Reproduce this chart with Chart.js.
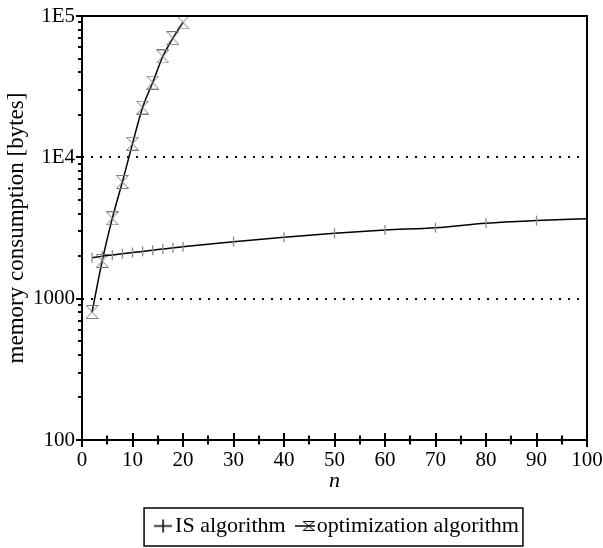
<!DOCTYPE html>
<html>
<head>
<meta charset="utf-8">
<script src="https://cdn.jsdelivr.net/npm/chart.js@4/dist/chart.umd.min.js"></script>
<style>
  html, body { margin: 0; padding: 0; background: #fff; }
  #wrap { width: 603px; height: 548px; }
</style>
</head>
<body>
<div id="wrap"><canvas id="memory-chart"></canvas></div>
<script>
// values
const isN = [2, 4, 6, 8, 10, 12, 14, 16, 18, 20, 30, 40, 50, 60, 70, 80, 90, 100];
const isMemory = [1950, 2000, 2040, 2080, 2120, 2160, 2200, 2250, 2290, 2330, 2530, 2720, 2900, 3060, 3180, 3420, 3570, 3680];
const optN = [2, 4, 6, 8, 10, 12, 14, 16, 18, 20];
const optMemory = [805, 1850, 3700, 6700, 12500, 22500, 33800, 51700, 69700, 90000];
const xTickValues = [0, 10, 20, 30, 40, 50, 60, 70, 80, 90, 100];
const yTickValues = [100, 1000, 10000, 100000];
const yTickLabels = ['100', '1000', '1E4', '1E5'];
const seriesNames = ['IS algorithm', 'optimization algorithm'];

const serif = "'Liberation Serif', Tinos, 'Times New Roman', 'DejaVu Serif', serif";

// hourglass marker: two triangles tip to tip, closed top and bottom
function hourglass(w, h, color, lineLen) {
  const c = document.createElement('canvas');
  const cw = lineLen || w + 1;
  c.width = cw; c.height = h + 1;
  const g = c.getContext('2d');
  g.strokeStyle = color; g.lineWidth = 1;
  const x0 = cw - w - 0.5, x1 = cw - 0.5, y0 = 0.5, y1 = h + 0.5;
  g.beginPath();
  g.moveTo(x0, y0); g.lineTo(x1, y0);
  g.moveTo(x0, y1); g.lineTo(x1, y1);
  g.moveTo(x0, y0); g.lineTo(x1, y1);
  g.moveTo(x1, y0); g.lineTo(x0, y1);
  g.stroke();
  if (lineLen) {
    g.strokeStyle = '#000'; g.lineWidth = 1.5;
    g.beginPath(); g.moveTo(0, (h + 1) / 2); g.lineTo(cw, (h + 1) / 2); g.stroke();
  }
  return c;
}
function plusLegend() {
  const c = document.createElement('canvas');
  c.width = 18; c.height = 15;
  const g = c.getContext('2d');
  g.strokeStyle = '#000'; g.lineWidth = 1.5;
  g.beginPath();
  g.moveTo(0, 7.5); g.lineTo(18, 7.5);
  g.moveTo(9, 1); g.lineTo(9, 14);
  g.stroke();
  return c;
}
const optPoint = hourglass(12, 13, '#7a7a7a');
const legendStyles = [plusLegend(), hourglass(11, 9, '#000', 20)];

// frame, crossing x ticks, log minor ticks and legend box
const frameAndTicks = {
  id: 'frameAndTicks',
  afterLayout(chart) {
    // legend sits a little right of the plot centre
    chart.legend.left += 6;
    chart.legend.right += 6;
  },
  afterDraw(chart) {
    const {ctx, chartArea: a, scales: {x, y}} = chart;
    ctx.save();
    ctx.strokeStyle = '#000';
    ctx.lineWidth = 2;
    ctx.strokeRect(a.left, a.top, a.right - a.left, a.bottom - a.top);
    ctx.beginPath();
    for (let v = 0; v <= 100; v += 5) {
      const px = Math.round(x.getPixelForValue(v));
      const h = v % 10 === 0 ? 7 : 4.5;
      ctx.moveTo(px, a.bottom - h); ctx.lineTo(px, a.bottom + h);
    }
    for (let d = 100; d <= 100000; d *= 10) {
      for (let m = 1; m <= 9; m++) {
        if (d * m > 100000) break;
        const py = Math.round(y.getPixelForValue(d * m));
        const len = m === 1 ? 6 : 4;
        ctx.moveTo(a.left - len, py); ctx.lineTo(a.left, py);
      }
    }
    ctx.stroke();

    const hb = chart.legend.legendHitBoxes;
    if (hb && hb.length) {
      const first = hb[0], last = hb[hb.length - 1];
      ctx.lineWidth = 1.5;
      ctx.strokeRect(first.left - 18, first.top - 7, last.left + last.width + 4 - (first.left - 18), first.height + 16);
    }
    ctx.restore();
  }
};

const memoryChart = new Chart(document.getElementById('memory-chart'), {
  type: 'line',
  data: {
    datasets: [{
      label: seriesNames[0],
      data: isN.map((n, i) => ({x: n, y: isMemory[i]})),
      borderColor: '#000',
      borderWidth: 1.5,
      pointStyle: 'line',
      pointRotation: 90,
      pointRadius: isN.map(n => n === 100 ? 0 : 5),
      pointBorderColor: '#8a8a8a',
      pointBorderWidth: 1.3,
      cubicInterpolationMode: 'monotone'
    }, {
      label: seriesNames[1],
      data: optN.map((n, i) => ({x: n, y: optMemory[i]})),
      borderColor: '#000',
      borderWidth: 1.5,
      pointStyle: optPoint,
      pointRadius: 6,
      cubicInterpolationMode: 'monotone'
    }]
  },
  options: {
    responsive: true,
    maintainAspectRatio: false,
    animation: false,
    layout: {padding: {left: 0, right: 16, top: 16, bottom: 1}},
    scales: {
      x: {
        type: 'linear',
        min: 0, max: 100,
        afterBuildTicks: s => { s.ticks = xTickValues.map(v => ({value: v})); },
        afterFit: s => { s.height = 57; s.paddingLeft = 0; s.paddingRight = 0; },
        grid: {display: false},
        border: {display: false},
        ticks: {color: '#000', padding: 0, maxRotation: 0, font: {family: serif, size: 21}},
        title: {display: true, text: 'n', color: '#000', padding: {top: 0, bottom: 3},
                font: {family: serif, size: 22, style: 'italic'}}
      },
      y: {
        type: 'logarithmic',
        min: 100, max: 100000,
        afterBuildTicks: s => { s.ticks = yTickValues.map(v => ({value: v})); },
        afterFit: s => { s.width = 82; s.paddingTop = 0; s.paddingBottom = 0; },
        grid: {
          drawTicks: false,
          lineWidth: 2,
          color: c => (c.tick && (c.tick.value === 1000 || c.tick.value === 10000)) ? '#000' : 'rgba(0,0,0,0)'
        },
        border: {display: false, dash: [2, 7]},
        ticks: {
          color: '#000', padding: 7,
          font: {family: serif, size: 21},
          callback: v => yTickLabels[yTickValues.indexOf(v)]
        },
        title: {display: true, text: 'memory consumption [bytes]', color: '#000', padding: {top: 3, bottom: 0},
                font: {family: serif, size: 23}}
      }
    },
    plugins: {
      tooltip: {enabled: false},
      legend: {
        position: 'bottom',
        fullSize: false,
        labels: {
          usePointStyle: true,
          pointStyleWidth: 2,
          padding: 18,
          color: '#000',
          font: {family: serif, size: 22},
          generateLabels: chart => chart.data.datasets.map((ds, i) => ({
            text: ds.label,
            pointStyle: legendStyles[i],
            fontColor: '#000',
            fillStyle: '#000',
            strokeStyle: '#000',
            lineWidth: 0,
            hidden: false,
            datasetIndex: i
          }))
        }
      }
    }
  },
  plugins: [frameAndTicks]
});
</script>
</body>
</html>
